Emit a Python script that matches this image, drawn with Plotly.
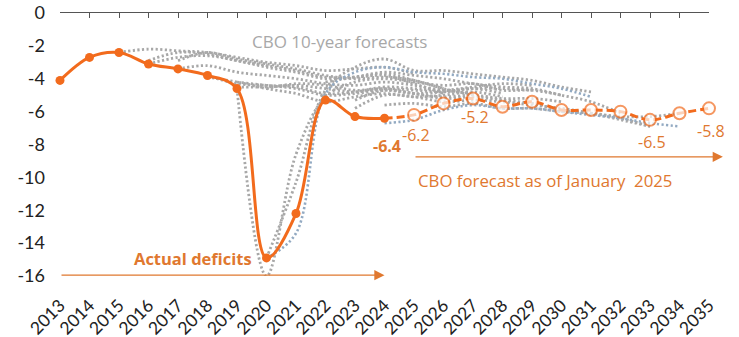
import plotly.graph_objects as go

# Federal deficit, % of GDP
years_actual = list(range(2013, 2025))
deficit_actual = [-4.1, -2.7, -2.4, -3.1, -3.4, -3.8, -4.6, -14.9, -12.2, -5.3, -6.3, -6.4]

years_forecast = list(range(2024, 2036))
deficit_forecast = [-6.4, -6.2, -5.5, -5.2, -5.7, -5.4, -5.9, -5.9, -6.0, -6.5, -6.1, -5.8]

# Earlier CBO 10-year baselines (first year, values)
cbo_2015 = (2015, [-2.4, -2.2, -2.3, -2.4, -2.7, -3.0, -3.2, -3.5, -3.4, -3.3, -3.7])
cbo_2016a = (2016, [-2.9, -2.4, -2.5, -2.9, -3.2, -3.5, -3.9, -3.9, -3.8, -4.3, -4.9])
cbo_2016b = (2016, [-3.1, -2.7, -2.6, -2.9, -3.3, -3.6, -4.0, -3.9, -3.7, -4.1, -4.6])
cbo_2017a = (2017, [-2.9, -2.4, -2.8, -3.1, -3.4, -3.8, -4.0, -3.9, -4.1, -4.6, -5.0])
cbo_2017b = (2017, [-3.4, -3.2, -3.6, -3.8, -4.0, -4.3, -4.4, -4.2, -4.4, -4.7, -4.9])
cbo_2018a = (2018, [-3.9, -4.2, -4.6, -4.9, -5.4, -5.1, -4.9, -5.1, -5.0, -4.8, -5.1])
cbo_2018b = (2018, [-3.8, -4.3, -4.4, -4.6, -5.0, -4.9, -4.7, -4.9, -4.8, -4.6, -4.9])
cbo_2019a = (2019, [-4.2, -4.4, -4.5, -4.9, -4.8, -4.5, -4.6, -4.7, -4.5, -4.3, -4.4])
cbo_2019b = (2019, [-4.5, -4.5, -4.4, -4.6, -4.8, -4.6, -4.7, -4.8, -4.6, -4.6, -4.7])
cbo_2020a = (2020, [-4.6, -4.3, -4.4, -4.7, -4.6, -4.9, -5.1, -5.0, -5.2, -5.2, -5.4])
cbo_2020b = (2019, [-4.6, -16.0, -8.6, -5.1, -4.2, -4.0, -4.2, -4.4, -4.3, -4.7, -4.7, -5.0])
cbo_2021a = (2020, [-14.9, -10.3, -4.7, -3.3, -2.8, -3.5, -3.5, -3.7, -3.9, -4.1, -4.5, -4.8])
cbo_2021b = (2020, [-14.9, -13.4, -4.9, -3.6, -3.3, -3.6, -3.7, -3.9, -4.0, -4.3, -4.6, -5.1])
cbo_2022 = (2022, [-4.2, -3.9, -3.6, -3.8, -4.0, -4.3, -4.5, -4.6, -5.0, -5.4, -6.1])
cbo_2023a = (2023, [-5.3, -4.7, -4.9, -5.2, -5.1, -5.3, -5.5, -5.9, -6.1, -6.4, -6.9])
cbo_2023b = (2023, [-5.8, -5.0, -5.1, -5.4, -5.3, -5.4, -5.6, -5.8, -6.1, -6.5, -6.9])
cbo_2024a = (2024, [-5.6, -5.5, -5.7, -5.5, -5.8, -5.8, -6.0, -6.1, -6.3, -6.3, -6.1])
cbo_2024b = (2024, [-6.7, -6.5, -5.9, -5.6, -5.8, -5.8, -6.0, -6.2, -6.4, -6.7, -6.9])

tick_years = list(range(2013, 2036))
y_ticks = list(range(0, -17, -2))

ORANGE = "#F26B1D"
LABEL_ORANGE = "#E0782F"
GRAY = "#A8A8A8"
BLUEGRAY = "#93AAC2"
TICK_FONT = "Lato"
LABEL_FONT = "Open Sans"

fig = go.Figure()

grey_set = [cbo_2015, cbo_2016a, cbo_2016b, cbo_2017a, cbo_2017b, cbo_2018a,
            cbo_2018b, cbo_2019a, cbo_2019b, cbo_2020a, cbo_2020b, cbo_2021a,
            cbo_2022, cbo_2023a, cbo_2023b, cbo_2024a]
blue_set = [cbo_2021b, cbo_2024b]

for start, vals in grey_set:
    fig.add_trace(go.Scatter(
        x=list(range(start, start + len(vals))), y=vals, mode="lines",
        line=dict(color=GRAY, width=2.8, dash="2.2px,2.4px", shape="spline"),
        hoverinfo="skip"))
for start, vals in blue_set:
    fig.add_trace(go.Scatter(
        x=list(range(start, start + len(vals))), y=vals, mode="lines",
        line=dict(color=BLUEGRAY, width=2.6, dash="2.2px,2.4px", shape="spline"),
        hoverinfo="skip"))

# forecast (dashed, open markers)
fig.add_trace(go.Scatter(
    x=years_forecast, y=deficit_forecast, mode="lines+markers",
    line=dict(color=ORANGE, width=3, dash="8px,4px", shape="spline"),
    marker=dict(size=[0] + [12] * (len(years_forecast) - 1), color="#FFFDFB",
                line=dict(color=ORANGE, width=2)),
    cliponaxis=False))

# actual outturns (solid, filled markers)
fig.add_trace(go.Scatter(
    x=years_actual, y=deficit_actual, mode="lines+markers",
    line=dict(color=ORANGE, width=3, shape="spline"),
    marker=dict(size=9, color=ORANGE),
    cliponaxis=False))

# axis line with tick marks along y = 0
fig.add_trace(go.Scatter(x=[tick_years[0]], y=[0], xaxis="x2", mode="markers",
                         marker=dict(size=0, opacity=0), hoverinfo="skip"))

annotations = []

# value labels taken from the plotted points
value_labels = [
    (2024, deficit_actual[-1], -28, True),
    (2025, deficit_forecast[1], -20, False),
    (2027, deficit_forecast[3], -19, False),
    (2033, deficit_forecast[9], -22, False),
    (2035, deficit_forecast[11], -23, False),
]
for yr, val, shift, bold in value_labels:
    txt = f"{val:.1f}"
    annotations.append(dict(
        x=yr, y=val, xref="x", yref="y", text=f"<b>{txt}</b>" if bold else txt,
        showarrow=False, yshift=shift, xshift=2,
        font=dict(family=LABEL_FONT, size=16, color=LABEL_ORANGE)))

annotations += [
    dict(xref="x", yref="y", x=2012.9, y=-1.4, xanchor="left", yanchor="middle",
         text="% of GDP", showarrow=False,
         font=dict(family=LABEL_FONT, size=15.5, color="#333333")),
    dict(xref="x", yref="y", x=2019.45, y=-1.75, xanchor="left", yanchor="middle",
         text="CBO 10-year forecasts", showarrow=False,
         font=dict(family=LABEL_FONT, size=17, color=GRAY)),
    dict(xref="x", yref="y", x=2015.45, y=-14.95, xanchor="left", yanchor="middle",
         text="<b>Actual deficits</b>", showarrow=False,
         font=dict(family=LABEL_FONT, size=16.5, color=LABEL_ORANGE)),
    dict(xref="x", yref="y", x=2029.45, y=-10.2, xanchor="center", yanchor="middle",
         text="CBO forecast as of January  2025", showarrow=False,
         font=dict(family=LABEL_FONT, size=16.8, color=LABEL_ORANGE)),
    # period arrows
    dict(xref="x", yref="y", axref="x", ayref="y",
         x=2024.0, y=-15.95, ax=2013.0, ay=-15.95, text="",
         showarrow=True, arrowhead=2, arrowsize=1.7, arrowwidth=1.2,
         arrowcolor=LABEL_ORANGE, standoff=0, startstandoff=0),
    dict(xref="x", yref="y", axref="x", ayref="y",
         x=2035.47, y=-8.75, ax=2025.0, ay=-8.75, text="",
         showarrow=True, arrowhead=2, arrowsize=1.7, arrowwidth=1.2,
         arrowcolor=LABEL_ORANGE, standoff=0, startstandoff=0),
]

fig.update_layout(
    width=739, height=337,
    margin=dict(l=60, r=30, t=13, b=61),
    paper_bgcolor="white", plot_bgcolor="white",
    showlegend=False,
    annotations=annotations,
    xaxis=dict(range=[2013, 2035], tickvals=tick_years,
               ticktext=[str(y) for y in tick_years], tickangle=-45,
               showgrid=False, zeroline=False, showline=False, ticks="",
               ticklabelstandoff=15, automargin=False,
               tickfont=dict(family=TICK_FONT, size=17.5, color="#222222")),
    xaxis2=dict(range=[2013, 2035], overlaying="x", side="top", matches="x",
                tickvals=tick_years, showticklabels=False, showgrid=False,
                zeroline=False, showline=True, linecolor="#555555", linewidth=1,
                ticks="inside", ticklen=5, tickcolor="#555555", automargin=False),
    yaxis=dict(range=[-16, 0], tickvals=y_ticks, ticktext=[str(v) for v in y_ticks],
               showgrid=False, zeroline=False, showline=False, ticks="",
               ticklabelstandoff=14, automargin=False,
               tickfont=dict(family=TICK_FONT, size=18, color="#222222")),
)

fig.write_html("out.html")
